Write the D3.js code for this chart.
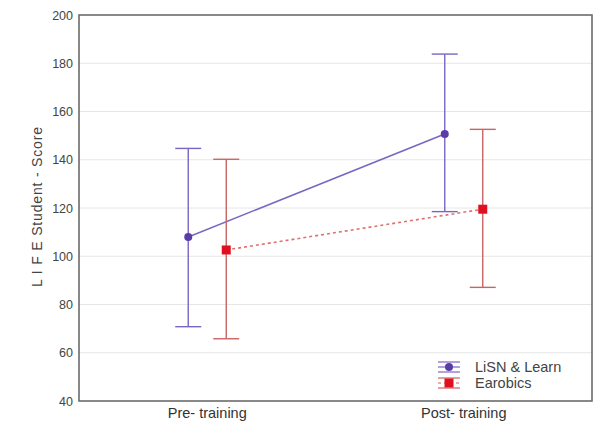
<!DOCTYPE html>
<html><head><meta charset="utf-8">
<script src="https://cdn.jsdelivr.net/npm/d3@7"></script>
<style>body{margin:0;background:#fff}svg{display:block}text{font-family:Arial,"Liberation Sans",sans-serif}</style>
</head><body><svg id="c" width="600" height="433"></svg>
<script>
const categories = ["Pre- training", "Post- training"];
const seriesNames = ["LiSN & Learn", "Earobics"];
const lisnMean = [108, 150.7];
const lisnLow = [70.8, 118.5];
const lisnHigh = [144.7, 183.8];
const earoMean = [102.6, 119.5];
const earoLow = [65.8, 87.1];
const earoHigh = [140.2, 152.6];
const yTicks = [40, 60, 80, 100, 120, 140, 160, 180, 200];

const svg = d3.select("#c");
const L = 79, R = 592, T = 15, B = 401;
const x = d3.scaleBand().domain(categories).range([L, R]);
const y = d3.scaleLinear().domain([40, 200]).range([B, T]);

// gridlines
svg.append("g").selectAll("line").data(yTicks.slice(1, -1)).join("line")
  .attr("x1", L).attr("x2", R).attr("y1", d => y(d)).attr("y2", d => y(d))
  .attr("stroke", "#e6e6e6").attr("stroke-width", 1);

// y axis labels
const yAxis = d3.axisLeft(y).tickValues(yTicks).tickSize(0).tickPadding(6);
const ga = svg.append("g").attr("transform", `translate(${L},0)`).call(yAxis);
ga.select(".domain").remove();
ga.selectAll("text").attr("font-size", 12.5).attr("fill", "#444").style("font-family", "Arial, 'Liberation Sans', sans-serif");

const xAxis = d3.axisBottom(x).tickSize(0).tickPadding(7);
const gx = svg.append("g").attr("transform", `translate(0,${B})`).call(xAxis);
gx.select(".domain").remove();
gx.selectAll("text").attr("font-size", 14.5).attr("fill", "#333").style("font-family", "Arial, 'Liberation Sans', sans-serif");

svg.append("text").attr("transform", `translate(42,${(T + B) / 2 - 1}) rotate(-90)`)
  .attr("text-anchor", "middle").attr("font-size", 14).attr("fill", "#444")
  .attr("textLength", 160).attr("lengthAdjust", "spacing")
  .text("L I F E  Student - Score");

const series = [
  {name: seriesNames[0], mean: lisnMean, low: lisnLow, high: lisnHigh, off: -19, line: "#7a66c2", mark: "#5a3ca8", dash: null, shape: "circle"},
  {name: seriesNames[1], mean: earoMean, low: earoLow, high: earoHigh, off: 19, line: "#c86464", mark: "#e01020", dash: "3,3", shape: "square"}
];
const cx = (s, i) => x(categories[i]) + x.bandwidth() / 2 + s.off;

series.forEach(s => {
  const g = svg.append("g");
  const idx = categories.map((c, i) => i);
  g.append("path").attr("d", d3.line().x(i => cx(s, i)).y(i => y(s.mean[i]))(idx))
    .attr("fill", "none").attr("stroke", s.dash ? "#e07070" : s.line).attr("stroke-width", 1.6)
    .attr("stroke-dasharray", s.dash);
  idx.forEach(i => {
    const X = cx(s, i);
    g.append("line").attr("x1", X).attr("x2", X).attr("y1", y(s.low[i])).attr("y2", y(s.high[i]))
      .attr("stroke", s.line).attr("stroke-width", 1.4);
    [s.low[i], s.high[i]].forEach(v => g.append("line").attr("x1", X - 13).attr("x2", X + 13)
      .attr("y1", y(v)).attr("y2", y(v)).attr("stroke", s.line).attr("stroke-width", 1.4));
    if (s.shape === "circle") g.append("circle").attr("cx", X).attr("cy", y(s.mean[i])).attr("r", 4).attr("fill", s.mark);
    else g.append("rect").attr("x", X - 4.5).attr("y", y(s.mean[i]) - 4.5).attr("width", 9).attr("height", 9).attr("fill", s.mark);
  });
});

// legend
series.forEach((s, k) => {
  const ly = 367 + k * 16, lx = 449;
  const g = svg.append("g");
  [-5, 0, 5].forEach(dy => g.append("line").attr("x1", lx - 11).attr("x2", lx + 11).attr("y1", ly + dy).attr("y2", ly + dy)
    .attr("stroke", s.line).attr("stroke-width", 1.2).attr("stroke-dasharray", dy === 0 ? s.dash : null));
  if (s.shape === "circle") g.append("circle").attr("cx", lx).attr("cy", ly).attr("r", 4).attr("fill", s.mark);
  else g.append("rect").attr("x", lx - 4.5).attr("y", ly - 4.5).attr("width", 9).attr("height", 9).attr("fill", s.mark);
  g.append("text").attr("x", 475).attr("y", ly + 5).attr("font-size", 14.5).attr("fill", "#444").text(s.name);
});

// frame
svg.append("rect").attr("x", L).attr("y", T).attr("width", R - L).attr("height", B - T)
  .attr("fill", "none").attr("stroke", "#6b6b6b").attr("stroke-width", 1.6);
</script></body></html>
